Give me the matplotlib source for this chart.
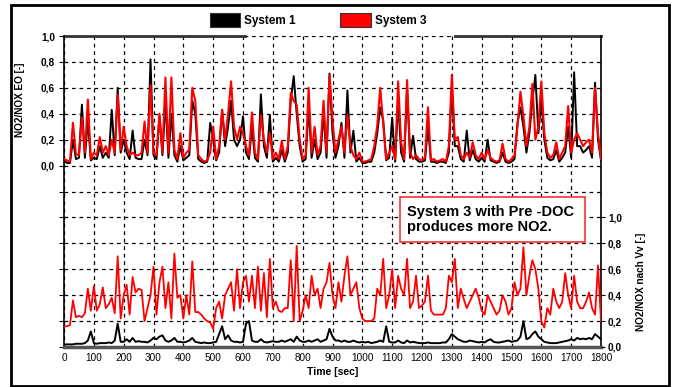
import numpy as np
import matplotlib
matplotlib.use("Agg")
import matplotlib.pyplot as plt
from matplotlib.patches import Rectangle, Patch

plt.rcParams['font.family'] = ['Liberation Sans', 'DejaVu Sans']

time_s = np.arange(0, 1801, 10)

# NO2/NOX EO [-] (upper trace)
sys1_eo = [
    0.04, 0.02, 0.02, 0.20, 0.05, 0.06, 0.47, 0.06, 0.35, 0.04,
    0.06, 0.05, 0.15, 0.06, 0.10, 0.06, 0.43, 0.08, 0.60, 0.10,
    0.20, 0.10, 0.05, 0.27, 0.06, 0.05, 0.05, 0.20, 0.08, 0.82,
    0.08, 0.05, 0.38, 0.08, 0.50, 0.06, 0.40, 0.08, 0.03, 0.15,
    0.04, 0.06, 0.08, 0.50, 0.40, 0.05, 0.03, 0.02, 0.03, 0.33,
    0.20, 0.04, 0.10, 0.43, 0.15, 0.30, 0.50, 0.20, 0.15, 0.20,
    0.38, 0.10, 0.05, 0.30, 0.06, 0.03, 0.55, 0.15, 0.06, 0.39,
    0.03, 0.06, 0.03, 0.12, 0.03, 0.10, 0.50, 0.69, 0.40, 0.15,
    0.03, 0.05, 0.45, 0.06, 0.20, 0.05, 0.10, 0.40, 0.06, 0.71,
    0.25, 0.06, 0.15, 0.33, 0.06, 0.58, 0.10, 0.27, 0.03, 0.06,
    0.02, 0.02, 0.03, 0.03, 0.10, 0.25, 0.45, 0.35, 0.04, 0.06,
    0.37, 0.03, 0.50, 0.10, 0.03, 0.60, 0.06, 0.23, 0.05, 0.03,
    0.03, 0.04, 0.30, 0.03, 0.03, 0.02, 0.03, 0.03, 0.02, 0.10,
    0.60, 0.15, 0.15, 0.05, 0.03, 0.27, 0.04, 0.12, 0.05, 0.03,
    0.06, 0.03, 0.20, 0.04, 0.03, 0.02, 0.03, 0.10, 0.03, 0.02,
    0.03, 0.05, 0.33, 0.45, 0.30, 0.10, 0.25, 0.50, 0.70, 0.25,
    0.50, 0.20, 0.06, 0.04, 0.05, 0.12, 0.03, 0.06, 0.10, 0.30,
    0.06, 0.72, 0.15, 0.15, 0.10, 0.12, 0.15, 0.06, 0.64, 0.20,
    0.04,
]
sys3_eo = [
    0.05, 0.04, 0.03, 0.33, 0.09, 0.08, 0.37, 0.10, 0.51, 0.05,
    0.10, 0.08, 0.22, 0.10, 0.15, 0.08, 0.20, 0.10, 0.55, 0.12,
    0.30, 0.15, 0.08, 0.10, 0.08, 0.08, 0.10, 0.34, 0.10, 0.62,
    0.10, 0.08, 0.40, 0.10, 0.68, 0.10, 0.68, 0.12, 0.05, 0.25,
    0.06, 0.10, 0.12, 0.60, 0.50, 0.08, 0.05, 0.03, 0.04, 0.10,
    0.30, 0.05, 0.15, 0.43, 0.20, 0.40, 0.65, 0.30, 0.20, 0.30,
    0.25, 0.15, 0.08, 0.41, 0.10, 0.05, 0.39, 0.20, 0.10, 0.25,
    0.05, 0.10, 0.05, 0.19, 0.05, 0.15, 0.56, 0.50, 0.47, 0.20,
    0.05, 0.08, 0.60, 0.10, 0.30, 0.08, 0.15, 0.50, 0.10, 0.70,
    0.35, 0.10, 0.20, 0.30, 0.10, 0.39, 0.15, 0.08, 0.05, 0.10,
    0.03, 0.03, 0.04, 0.05, 0.15, 0.31, 0.60, 0.32, 0.05, 0.10,
    0.15, 0.05, 0.65, 0.18, 0.05, 0.66, 0.10, 0.05, 0.08, 0.05,
    0.04, 0.06, 0.45, 0.04, 0.05, 0.03, 0.04, 0.05, 0.03, 0.15,
    0.70, 0.20, 0.22, 0.08, 0.05, 0.10, 0.06, 0.18, 0.08, 0.05,
    0.10, 0.05, 0.12, 0.06, 0.04, 0.03, 0.04, 0.17, 0.05, 0.03,
    0.05, 0.08, 0.30, 0.57, 0.38, 0.15, 0.30, 0.63, 0.20, 0.30,
    0.65, 0.25, 0.10, 0.06, 0.08, 0.18, 0.05, 0.10, 0.15, 0.46,
    0.10, 0.20, 0.25, 0.20, 0.15, 0.18, 0.20, 0.10, 0.60, 0.25,
    0.05,
]

# NO2/NOX nach Vv [-] (lower trace)
sys1_vv = [
    0.02, 0.02, 0.02, 0.02, 0.025, 0.025, 0.025, 0.03, 0.05, 0.12,
    0.03, 0.025, 0.03, 0.03, 0.03, 0.035, 0.03, 0.05, 0.18, 0.04,
    0.04, 0.06, 0.04, 0.07, 0.04, 0.045, 0.04, 0.04, 0.035, 0.05,
    0.07, 0.06, 0.08, 0.09, 0.05, 0.04, 0.05, 0.07, 0.04, 0.04,
    0.035, 0.04, 0.05, 0.07, 0.04, 0.035, 0.03, 0.035, 0.03, 0.03,
    0.035, 0.04, 0.10, 0.16, 0.06, 0.09, 0.05, 0.04, 0.04, 0.035,
    0.04, 0.18, 0.20, 0.05, 0.04, 0.04, 0.06, 0.04, 0.035, 0.04,
    0.045, 0.04, 0.04, 0.05, 0.04, 0.05, 0.06, 0.04, 0.08, 0.05,
    0.04, 0.04, 0.05, 0.04, 0.05, 0.06, 0.04, 0.05, 0.06, 0.14,
    0.08, 0.05, 0.05, 0.04, 0.05, 0.04, 0.04, 0.05, 0.04, 0.035,
    0.04, 0.035, 0.04, 0.03, 0.035, 0.04, 0.05, 0.04, 0.16, 0.04,
    0.035, 0.035, 0.05, 0.035, 0.03, 0.05, 0.035, 0.04, 0.035, 0.03,
    0.03, 0.03, 0.035, 0.03, 0.03, 0.03, 0.03, 0.035, 0.035, 0.06,
    0.10, 0.08, 0.06, 0.05, 0.04, 0.04, 0.05, 0.045, 0.04, 0.035,
    0.04, 0.035, 0.05, 0.06, 0.04, 0.035, 0.035, 0.04, 0.045, 0.05,
    0.04, 0.045, 0.05, 0.08, 0.20, 0.06, 0.07, 0.10, 0.12, 0.08,
    0.06, 0.04, 0.035, 0.03, 0.03, 0.03, 0.035, 0.04, 0.045, 0.05,
    0.06, 0.05, 0.07, 0.06, 0.065, 0.06, 0.07, 0.06, 0.10, 0.08,
    0.06,
]
sys3_vv = [
    0.16, 0.16, 0.17, 0.36, 0.23, 0.24, 0.23, 0.26, 0.45, 0.28,
    0.47, 0.28, 0.33, 0.46, 0.30, 0.33, 0.38, 0.26, 0.70, 0.22,
    0.40, 0.48, 0.25, 0.54, 0.42, 0.45, 0.44, 0.20, 0.30, 0.40,
    0.62, 0.25, 0.50, 0.62, 0.30, 0.50, 0.22, 0.72, 0.38, 0.40,
    0.22, 0.40, 0.25, 0.66, 0.27, 0.27, 0.25, 0.22, 0.20, 0.19,
    0.14, 0.30, 0.35, 0.22, 0.40, 0.45, 0.50, 0.28, 0.60, 0.30,
    0.50, 0.55, 0.35, 0.55, 0.30, 0.62, 0.28, 0.57, 0.23, 0.68,
    0.30, 0.35, 0.28, 0.27, 0.30, 0.30, 0.67, 0.20, 0.78, 0.20,
    0.28, 0.40, 0.30, 0.55, 0.40, 0.45, 0.30, 0.45, 0.50, 0.65,
    0.40, 0.30, 0.50, 0.35, 0.55, 0.70, 0.40, 0.45, 0.50, 0.30,
    0.22, 0.20, 0.20, 0.20, 0.22, 0.45, 0.40, 0.68, 0.30, 0.40,
    0.60, 0.30, 0.55, 0.45, 0.40, 0.68, 0.30, 0.35, 0.55, 0.30,
    0.32, 0.35, 0.55, 0.28, 0.25, 0.25, 0.25, 0.25, 0.30, 0.55,
    0.50, 0.68, 0.30, 0.45, 0.37, 0.30, 0.35, 0.40, 0.45, 0.38,
    0.28, 0.25, 0.40, 0.35, 0.30, 0.25, 0.28, 0.40, 0.35, 0.25,
    0.30, 0.50, 0.40, 0.45, 0.77, 0.40, 0.55, 0.67, 0.60, 0.45,
    0.20, 0.15, 0.30, 0.25, 0.45, 0.35, 0.30, 0.35, 0.57, 0.40,
    0.30, 0.55, 0.35, 0.30, 0.30, 0.35, 0.42, 0.30, 0.25, 0.63,
    0.20,
]

series_labels = ["System 1", "System 3"]
series_colors = ["#000000", "#ff0000"]
x_ticks = list(range(0, 1801, 100))
panel_ticks = [0.0, 0.2, 0.4, 0.6, 0.8, 1.0]
panel_tick_labels = ["0,0", "0,2", "0,4", "0,6", "0,8", "1,0"]
upper_offset = 1.4

W, H = 676, 387
fig = plt.figure(figsize=(W / 100, H / 100), dpi=100)
ax = fig.add_axes([64 / W, 1 - 347 / H, (601 - 64) / W, (347 - 36) / H])

ax.plot(time_s, np.array(sys1_eo) + upper_offset, color=series_colors[0], lw=1.4, zorder=3)
ax.plot(time_s, np.array(sys3_eo) + upper_offset, color=series_colors[1], lw=1.5, zorder=4)
ax.plot(time_s, sys3_vv, color=series_colors[1], lw=1.3, zorder=4)
ax.plot(time_s, sys1_vv, color=series_colors[0], lw=1.4, zorder=5)

ax.set_xlim(0, 1800)
ax.set_ylim(0, 2.4)
ax.set_xticks(x_ticks)
ax.set_xticklabels([str(v) for v in x_ticks], fontsize=7.2)
all_y = [round(0.2 * k, 2) for k in range(13)]
ax.set_yticks(all_y)
ax.set_yticklabels(["" if v < upper_offset - 1e-6 else panel_tick_labels[int(round((v - upper_offset) / 0.2))]
                    for v in all_y], fontsize=7.2, fontweight="bold")
ax.tick_params(axis="y", left=False, pad=3)
ax.tick_params(axis="x", length=0, pad=4)
ax.grid(True, color="black", linestyle=(0, (3, 3)), linewidth=0.9)
ax.set_axisbelow(True)

ax.spines["top"].set_visible(False)
ax.spines["right"].set_linewidth(1.2)
ax.spines["left"].set_linewidth(1.2)
ax.spines["bottom"].set_linewidth(2.5)
ax.spines["bottom"].set_color("#555555")
ax.plot([0, (245 - 64) / 537], [1, 1], transform=ax.transAxes, color="#333333", lw=2, clip_on=False)
ax.plot([(455 - 64) / 537, 1], [1, 1], transform=ax.transAxes, color="#333333", lw=2, clip_on=False)

ax2 = ax.twinx()
ax2.set_ylim(0, 2.4)
ax2.set_yticks(panel_ticks)
ax2.set_yticklabels(panel_tick_labels, fontsize=7.2, fontweight="bold")
ax2.tick_params(axis="y", direction="out", length=3, pad=2)
for s in ax2.spines.values():
    s.set_visible(False)

ax.set_xlabel("Time [sec]", fontsize=7.5, fontweight="bold", labelpad=3)
fig.text(20 / W, 1 - 100 / H, "NO2/NOX EO [-]", rotation=90, ha="center", va="center",
         fontsize=7.2, fontweight="bold")
fig.text(641 / W, 1 - 282 / H, "NO2/NOX nach Vv [-]", rotation=90, ha="center", va="center",
         fontsize=7.2, fontweight="bold")

# annotation box
ax.add_patch(Rectangle((1126, 0.808), 620, 0.346, facecolor="white", edgecolor="#ff3030",
                       lw=1.2, zorder=6))
ax.text(1150, 0.981, "System 3 with Pre -DOC\nproduces more NO2.", fontsize=10.5,
        fontweight="bold", ha="left", va="center", linespacing=1.1, zorder=7)

handles = [Patch(facecolor=c, edgecolor="#333333", lw=0.8) for c in series_colors]
fig.legend(handles, series_labels, loc="center", bbox_to_anchor=(318 / W, 1 - 20 / H),
           ncol=2, frameon=False, prop={"size": 8.5, "weight": "bold"},
           handlelength=2.6, handleheight=1.5, columnspacing=3.8, handletextpad=0.3)

fig.patches.append(Rectangle((11 / W, 1 - 386 / H), (669 - 11) / W, (386 - 5) / H,
                             transform=fig.transFigure, fill=False, edgecolor="black", lw=2))

fig.savefig("out.png", dpi=100)
